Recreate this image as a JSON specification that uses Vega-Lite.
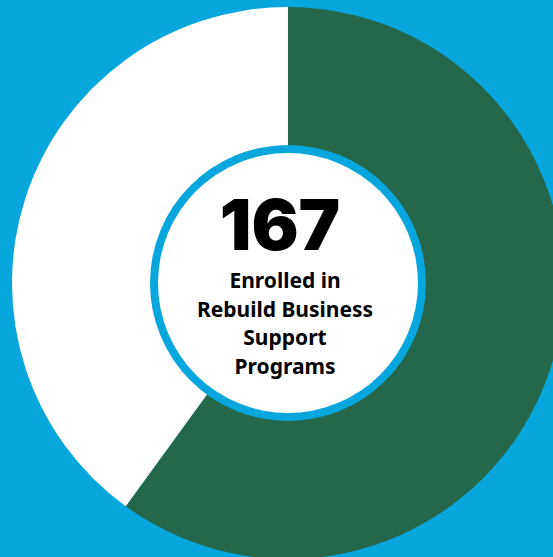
{
  "$schema": "https://vega.github.io/schema/vega-lite/v6.json",
  "autosize": {"type": "fit", "contains": "padding"},
  "width": 553,
  "height": 557,
  "padding": {"left": 23, "top": 9, "right": 0, "bottom": 0},
  "background": "#07A6DC",
  "config": {"view": {"stroke": null}},
  "resolve": {"scale": {"theta": "independent"}},
  "layer": [
    {
      "data": {"values": [{"segment": "Enrolled", "value": 60}, {"segment": "Other", "value": 40}]},
      "mark": {"type": "arc", "outerRadius": 276},
      "encoding": {
        "theta": {"field": "value", "type": "quantitative", "stack": true},
        "color": {"field": "segment", "type": "nominal", "scale": {"domain": ["Enrolled", "Other"], "range": ["#25674A", "#FFFFFF"]}, "legend": null},
        "order": {"field": "segment", "sort": "ascending"}
      }
    },
    {
      "data": {"values": [{"part": "ring", "value": 1}]},
      "mark": {"type": "arc", "outerRadius": 138, "fill": "#07A6DC"},
      "encoding": {"theta": {"field": "value", "type": "quantitative"}}
    },
    {
      "data": {"values": [{"part": "center", "value": 1}]},
      "mark": {"type": "arc", "outerRadius": 130, "fill": "#FFFFFF"},
      "encoding": {"theta": {"field": "value", "type": "quantitative"}}
    },
    {
      "data": {"values": [{"label": "167"}]},
      "mark": {"type": "text", "font": "Inter", "fontWeight": 900, "fontSize": 70, "color": "#000000", "baseline": "alphabetic", "align": "center", "dy": -33, "dx": -8},
      "encoding": {"text": {"field": "label", "type": "nominal"}}
    },
    {
      "data": {"values": [{"label": "Enrolled in\nRebuild Business\nSupport\nPrograms"}]},
      "mark": {"type": "text", "font": "Noto Sans", "fontWeight": "bold", "fontSize": 21, "color": "#000000", "baseline": "alphabetic", "align": "center", "lineBreak": "\n", "lineHeight": 28.5, "dy": 5, "dx": -3},
      "encoding": {"text": {"field": "label", "type": "nominal"}}
    }
  ]
}
